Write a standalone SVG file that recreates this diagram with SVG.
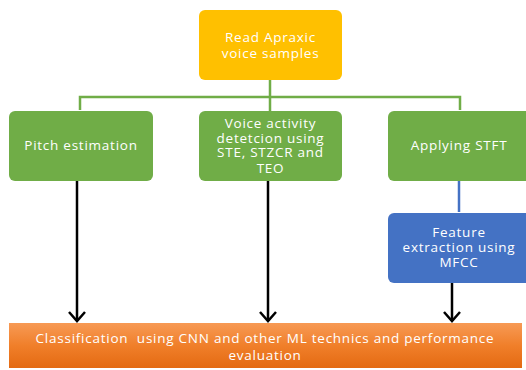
<svg xmlns="http://www.w3.org/2000/svg" width="526" height="370" viewBox="0 0 526 370">
  <defs>
    <linearGradient id="orangeFill" x1="0" y1="0" x2="0" y2="1">
      <stop offset="0" stop-color="#F79A55"/>
      <stop offset="0.5" stop-color="#F07F2A"/>
      <stop offset="1" stop-color="#E46A12"/>
    </linearGradient>
    <marker id="openArrow" viewBox="0 0 20 20" refX="18" refY="10" markerWidth="20" markerHeight="20" markerUnits="userSpaceOnUse" orient="auto">
      <path d="M9 2 L18 10 L9 18" fill="none" stroke="#000" stroke-width="2.5"/>
    </marker>
  </defs>
  <style>
    .lbl { font-family: "Open Sans", "Liberation Sans", sans-serif; font-size: 13.5px; font-weight: 500; letter-spacing: 0.75px; fill: #FFFFFF; text-anchor: middle; white-space: pre; }
    .green-line { stroke: #70AD47; stroke-width: 2.5; fill: none; }
    .blue-line { stroke: #4472C4; stroke-width: 2.5; fill: none; }
    .arrow { stroke: #000; stroke-width: 2.5; fill: none; marker-end: url(#openArrow); }
  </style>
  <rect width="526" height="370" fill="#FFFFFF"/>

  <g id="connectors">
    <path class="green-line" d="M270 80 V97 M80 110 V97 H460 V110 M270 97 V111"/>
    <path class="blue-line" d="M459 181 V212"/>
    <path class="arrow" d="M77 181 V321"/>
    <path class="arrow" d="M268 181 V321"/>
    <path class="arrow" d="M452 283 V321"/>
  </g>

  <g id="read-samples">
    <rect x="199" y="10" width="143" height="70" rx="6" fill="#FFC000"/>
    <text class="lbl" x="270.5" y="42">Read Apraxic</text>
    <text class="lbl" x="270.5" y="58">voice samples</text>
  </g>

  <g id="pitch-estimation">
    <rect x="9" y="111" width="144" height="70" rx="6" fill="#70AD47"/>
    <text class="lbl" x="81" y="150">Pitch estimation</text>
  </g>

  <g id="voice-activity">
    <rect x="199" y="111" width="143" height="70" rx="6" fill="#70AD47"/>
    <text class="lbl" x="270.5" y="127.5">Voice activity</text>
    <text class="lbl" x="270.5" y="142.5">detetcion using</text>
    <text class="lbl" x="270.5" y="157">STE, STZCR and</text>
    <text class="lbl" x="270.5" y="172.5">TEO</text>
  </g>

  <g id="applying-stft">
    <rect x="388" y="111" width="146" height="70" rx="6" fill="#70AD47"/>
    <text class="lbl" x="459" y="150">Applying STFT</text>
  </g>

  <g id="feature-extraction">
    <rect x="388" y="213" width="146" height="70" rx="6" fill="#4472C4"/>
    <text class="lbl" x="459" y="236.5">Feature</text>
    <text class="lbl" x="459" y="251.5">extraction using</text>
    <text class="lbl" x="459" y="266.5">MFCC</text>
  </g>

  <g id="classification">
    <rect x="9" y="323" width="513" height="45" fill="url(#orangeFill)"/>
    <text class="lbl" x="265" y="342.5">Classification  using CNN and other ML technics and performance</text>
    <text class="lbl" x="265" y="359.5">evaluation</text>
  </g>
</svg>
